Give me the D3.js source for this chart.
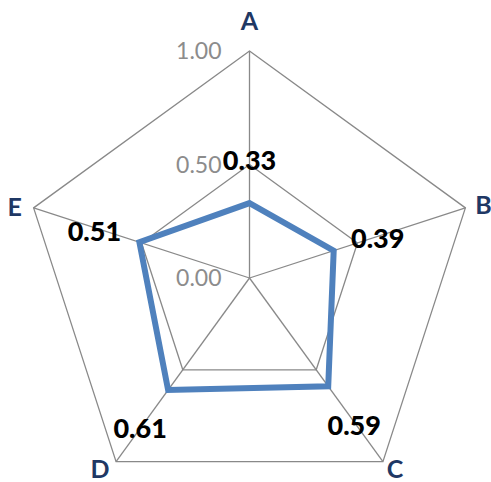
<!DOCTYPE html>
<html><head><meta charset="utf-8">
<script src="https://cdn.jsdelivr.net/npm/d3@7"></script>
<style>body{margin:0;background:#fff}svg{display:block}</style>
</head><body>
<script>
const categories = ["A","B","C","D","E"];
const values = [0.33, 0.39, 0.59, 0.61, 0.51];
const ticks = [0, 0.5, 1.0];
const tickLabels = ["0.00","0.50","1.00"];

const W = 491, H = 482, cx = 249.5, cy = 278, R = 227;
const svg = d3.select("body").append("svg").attr("width", W).attr("height", H);
const r = d3.scaleLinear().domain([0, 1]).range([0, R]);
const ang = d3.scalePoint().domain(categories.concat(["_"])).range([0, 2 * Math.PI]);
const pt = (c, v) => { const a = ang(c); return [cx + r(v) * Math.sin(a), cy - r(v) * Math.cos(a)]; };

const g = svg.append("g");
// grid rings
ticks.filter(t => t > 0).forEach(t => {
  g.append("path")
    .attr("d", d3.line()(categories.map(c => pt(c, t))) + "Z")
    .attr("fill", "none").attr("stroke", "#898989").attr("stroke-width", 1.3);
});
// spokes
categories.forEach(c => {
  const p = pt(c, 1);
  g.append("line").attr("x1", cx).attr("y1", cy).attr("x2", p[0]).attr("y2", p[1])
    .attr("stroke", "#898989").attr("stroke-width", 1.3);
});
// tick labels
ticks.forEach((t, i) => {
  g.append("text").attr("x", cx - 28).attr("y", cy - r(t) + 8)
    .attr("text-anchor", "end").attr("font-family", "Lato, sans-serif")
    .attr("font-size", 23).attr("fill", "#8c8c8c").text(tickLabels[i]);
});
// series
g.append("path")
  .attr("d", d3.line()(categories.map((c, i) => pt(c, values[i]))) + "Z")
  .attr("fill", "none").attr("stroke", "#4F81BD").attr("stroke-width", 6)
  .attr("stroke-linejoin", "miter");
// value labels
const offs = { A: [0, -43], B: [44, -13], C: [26, 39], D: [-28, 38], E: [-45, -11] };
categories.forEach((c, i) => {
  const p = pt(c, values[i]);
  g.append("text").attr("x", p[0] + offs[c][0]).attr("y", p[1] + offs[c][1] + 10)
    .attr("text-anchor", "middle").attr("font-family", "Lato, sans-serif")
    .attr("font-weight", 900).attr("font-size", 27).attr("fill", "#000")
    .text(values[i].toFixed(2));
});
// category labels
const loffs = { A: [0, -30], B: [18, -3], C: [12, 7], D: [-16, 7], E: [-19, -1] };
categories.forEach(c => {
  const p = pt(c, 1);
  g.append("text").attr("x", p[0] + loffs[c][0]).attr("y", p[1] + loffs[c][1] + 9)
    .attr("text-anchor", "middle").attr("font-family", "Lato, sans-serif")
    .attr("font-weight", "bold").attr("font-size", 25).attr("fill", "#1F3864")
    .text(c);
});
</script>
</body></html>
